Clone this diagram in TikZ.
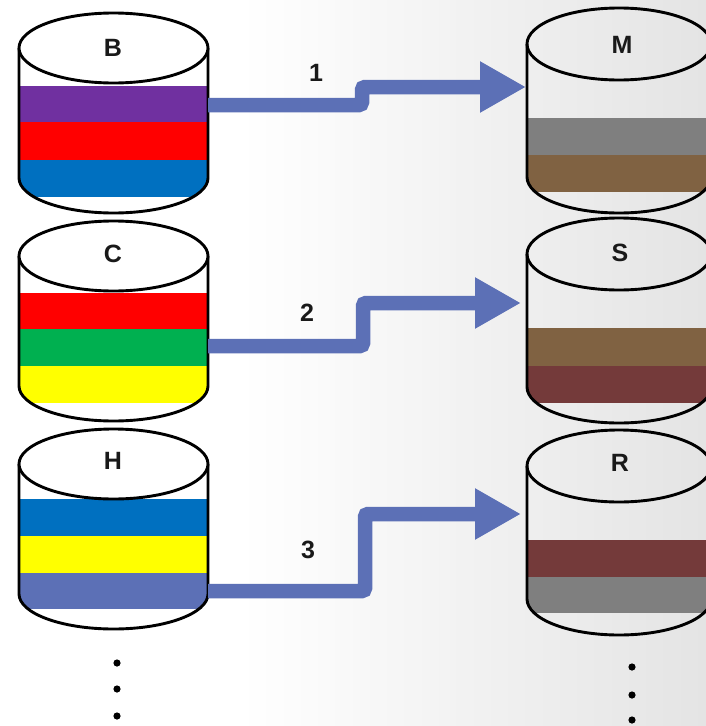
\documentclass[tikz,border=0pt]{standalone}
\usepackage{fontspec}
\setmainfont{Liberation Sans}
\usetikzlibrary{arrows.meta}
\definecolor{cpurple}{HTML}{7030A0}
\definecolor{cred}{HTML}{FF0000}
\definecolor{cblue}{HTML}{0070C0}
\definecolor{cgreen}{HTML}{00B050}
\definecolor{cyellow}{HTML}{FFFF00}
\definecolor{carrow}{RGB}{92,112,182}
\definecolor{cgray}{HTML}{7F7F7F}
\definecolor{cbrown}{RGB}{128,98,66}
\definecolor{cmaroon}{RGB}{116,58,58}
\definecolor{bgright}{RGB}{228,228,228}
% #1 cx, #2 top, #3 rx, #4 ry, #5 height
\newcommand\cylbodypath[5]{({#1-#3},{#2+#4}) -- ({#1-#3},{#2+#5-#4}) arc[start angle=180,end angle=360,x radius=#3pt,y radius=#4pt] -- ({#1+#3},{#2+#4}) -- cycle}
\newcommand\cylfill[6]{\fill[#6] \cylbodypath{#1}{#2}{#3}{#4}{#5};}
\newcommand\cyloutline[6]{%
  \draw[cylline] ({#1-#3},{#2+#4}) -- ({#1-#3},{#2+#5-#4}) arc[start angle=180,end angle=360,x radius=#3pt,y radius=#4pt] -- ({#1+#3},{#2+#4});
  \draw[cylline,#6] (#1,{#2+#4}) ellipse [x radius=#3pt, y radius=#4pt];}
\newcommand\cylband[8]{% cx top rx ry h, color, y1, y2
  \begin{scope}\clip \cylbodypath{#1}{#2}{#3}{#4}{#5};
  \fill[#6] ({#1-#3-5},#7) rectangle ({#1+#3+5},#8);\end{scope}}
\tikzset{
  cylline/.style={draw=black,line width=2.9pt},
  lbl/.style={font=\fontsize{25}{28}\selectfont\bfseries,text=black!90,inner sep=0pt},
  flow/.style={draw=carrow,line width=14.5pt,rounded corners=3pt,-{Triangle[length=46pt,width=48pt]}},
  dot/.style={fill=black}
}
\begin{document}
\begin{tikzpicture}[x=1pt,y=-1pt]
\useasboundingbox (0,0) rectangle (706,726);
\clip (0,0) rectangle (706,726);
\fill[white] (0,0) rectangle (706,726);
\shade[left color=white,right color=bgright] (240,0) rectangle (706,726);

% ---- left cylinders ----
% B
\cylfill{113.5}{13}{94.5}{35}{200}{white}
\cylband{113.5}{13}{94.5}{35}{200}{cpurple}{86}{122}
\cylband{113.5}{13}{94.5}{35}{200}{cred}{122}{160}
\cylband{113.5}{13}{94.5}{35}{200}{cblue}{160}{197}
\cyloutline{113.5}{13}{94.5}{35}{200}{fill=white}
% C
\cylfill{113.5}{221}{94.5}{35}{200}{white}
\cylband{113.5}{221}{94.5}{35}{200}{cred}{293}{329}
\cylband{113.5}{221}{94.5}{35}{200}{cgreen}{329}{366}
\cylband{113.5}{221}{94.5}{35}{200}{cyellow}{366}{403}
\cyloutline{113.5}{221}{94.5}{35}{200}{fill=white}
% H
\cylfill{113.5}{429}{94.5}{35}{200}{white}
\cylband{113.5}{429}{94.5}{35}{200}{cblue}{499}{536}
\cylband{113.5}{429}{94.5}{35}{200}{cyellow}{536}{573}
\cylband{113.5}{429}{94.5}{35}{200}{carrow}{573}{609}
\cyloutline{113.5}{429}{94.5}{35}{200}{fill=white}

% ---- right cylinders ----
% M
\cylband{619}{8}{92}{36}{205}{cgray}{118}{155}
\cylband{619}{8}{92}{36}{205}{cbrown}{155}{192}
\cyloutline{619}{8}{92}{36}{205}{}
% S
\cylband{619}{218}{92}{36}{205}{cbrown}{328}{366}
\cylband{619}{218}{92}{36}{205}{cmaroon}{366}{403}
\cyloutline{619}{218}{92}{36}{205}{}
% R
\cylband{619}{430}{92}{36}{205}{cmaroon}{540}{577}
\cylband{619}{430}{92}{36}{205}{cgray}{577}{613}
\cyloutline{619}{430}{92}{36}{205}{}

% ---- labels ----
\node[lbl] (B) at (113,48) {B};
\node[lbl] (C) at (113,254) {C};
\node[lbl] (H) at (113,461) {H};
\node[lbl] (M) at (622,45) {M};
\node[lbl] (S) at (620,253) {S};
\node[lbl] (R) at (620,463) {R};

% ---- connectors ----
\coordinate (Bout) at (208,105);
\coordinate (Min) at (526,87);
\coordinate (Cout) at (208,346);
\coordinate (Sin) at (521,303);
\coordinate (Hout) at (208,591);
\coordinate (Rin) at (521,514);
\draw[flow] (Bout) -- ++(154,0) |- (Min);
\draw[flow] (Cout) -- ++(155,0) |- (Sin);
\draw[flow] (Hout) -- ++(157,0) |- (Rin);

\node[lbl] (n1) at (316,73) {1};
\node[lbl] (n2) at (307,313) {2};
\node[lbl] (n3) at (308,550) {3};

% ---- dots ----
\fill[dot] (117,663) circle[radius=3.6pt];
\fill[dot] (117,689) circle[radius=3.6pt];
\fill[dot] (117,716) circle[radius=3.6pt];
\fill[dot] (632,667) circle[radius=3.6pt];
\fill[dot] (632,695) circle[radius=3.6pt];
\fill[dot] (632,720) circle[radius=3.6pt];
\end{tikzpicture}
\end{document}
